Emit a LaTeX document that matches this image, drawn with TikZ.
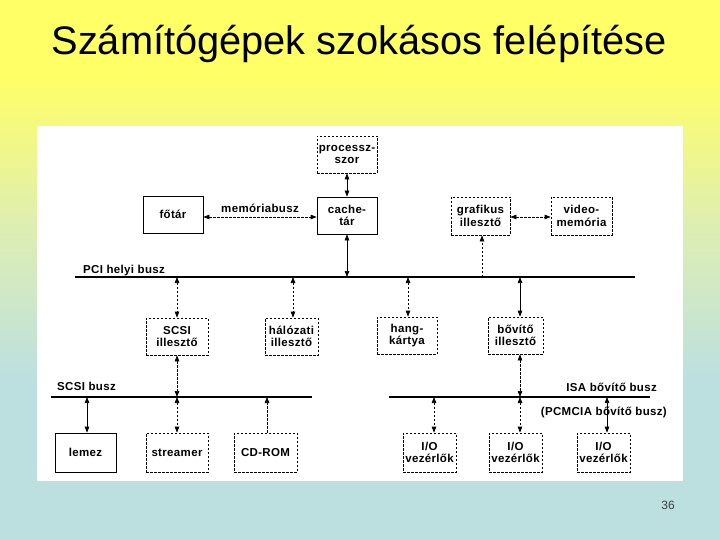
\documentclass[tikz,border=0pt]{standalone}
\usepackage{fontspec}
\setmainfont{Liberation Sans}
\newfontfamily\diafont[LetterSpace=3,BoldFont={Liberation Sans Bold}]{Liberation Sans}
\usetikzlibrary{arrows.meta}
\definecolor{bgyellow}{RGB}{255,255,102}
\definecolor{bggreen}{RGB}{222,238,178}
\definecolor{bgblue}{RGB}{188,224,224}
\pgfdeclareverticalshading{slidebg}{100bp}{color(0bp)=(bgblue); color(40bp)=(bgblue); color(54bp)=(bggreen); color(68bp)=(bgyellow); color(100bp)=(bgyellow)}

\begin{document}
\begin{tikzpicture}[x=1pt,y=-1pt,
  unit/.style={draw,line width=0.7pt,minimum width=60pt,minimum height=37pt,inner sep=0pt,align=center,
    font=\diafont\bfseries\fontsize{11.5}{12.5}\selectfont},
  dunit/.style={unit,dash pattern=on 2.5pt off 1.5pt},
  link/.style={line width=0.7pt,{Triangle[length=6pt,width=4.5pt]}-{Triangle[length=6pt,width=4.5pt]}},
  dlink/.style={link,dash pattern=on 2.5pt off 1.5pt},
  uplink/.style={line width=0.7pt,dash pattern=on 2.5pt off 1.5pt,-{Triangle[length=6pt,width=4.5pt]}},
  bus/.style={line width=2.2pt},
  buslabel/.style={inner sep=0pt,font=\diafont\bfseries\fontsize{11.5}{12.5}\selectfont}]
\useasboundingbox (0,0) rectangle (720,540);
\shade[shading=slidebg] (0,0) rectangle (720,540);
\fill[white] (37,126) rectangle (683,481);
\node[anchor=base] (title) at (359,55) {\fontsize{39.8}{44}\selectfont Számítógépek szokásos felépítése};
\node[anchor=base,text=black!75] (pagenum) at (668,509) {\fontsize{12}{14}\selectfont 36};

\node[dunit] (proc) at (347,154.5) {processz-\\szor};
\node[unit] (cache) at (347,215.5) {cache-\\tár};
\node[unit] (fotar) at (173,214.5) {főtár};
\node[dunit,minimum width=59pt,minimum height=38pt] (graf) at (480.5,216) {grafikus\\illesztő};
\node[dunit,minimum width=61pt,minimum height=38pt] (video) at (581.5,216) {video-\\memória};
\node[dunit,minimum width=62pt] (scsiil) at (177,336.5) {SCSI\\illesztő};
\node[dunit,minimum width=53pt] (halo) at (291.5,336.5) {hálózati\\illesztő};
\node[dunit] (hang) at (407,335.5) {hang-\\kártya};
\node[dunit,minimum width=55pt] (bovito) at (515.5,335.5) {bővítő\\illesztő};
\node[unit,minimum width=61pt,minimum height=39pt] (lemez) at (85.5,452.5) {lemez};
\node[dunit,minimum width=62pt,minimum height=39pt] (stream) at (177,452.5) {streamer};
\node[dunit,minimum width=63pt,minimum height=39pt] (cdrom) at (265.5,452.5) {CD-ROM};
\node[dunit,minimum width=53pt,minimum height=39pt] (io1) at (429.5,452.5) {I/O\\vezérlők};
\node[dunit,minimum width=53pt,minimum height=39pt] (io2) at (515.5,452.5) {I/O\\vezérlők};
\node[dunit,minimum width=53pt,minimum height=39pt] (io3) at (603.5,452.5) {I/O\\vezérlők};

\coordinate (pcia) at (75,277);
\coordinate (pcib) at (635,277);
\coordinate (scsia) at (51,397);
\coordinate (scsib) at (312,397);
\coordinate (isaa) at (389,397);
\coordinate (isab) at (650,397);
\draw[bus] (pcia) -- (pcib);
\draw[bus] (scsia) -- (scsib);
\draw[bus] (isaa) -- (isab);
\node[buslabel,anchor=base west] (pcilabel) at (83,273) {PCI helyi busz};
\node[buslabel,anchor=base west] (scsilabel) at (57,390) {SCSI busz};
\node[buslabel,anchor=base east] (isalabel) at (657,391) {ISA bővítő busz};
\node[buslabel,anchor=base east] (pcmcialabel) at (667,415) {(PCMCIA bővítő busz)};

\draw[dlink] (fotar.east |- 0,217) -- (cache.west |- 0,217) node[buslabel,midway,above=4pt] (membus) {memóriabusz};
\draw[link] (proc) -- (cache);
\draw[link] (cache) -- (cache |- pcia);
\draw[dlink] (graf.east |- 0,217) -- (video.west |- 0,217);
\coordinate (tgraf) at (482,277);
\draw[uplink] (tgraf) -- (tgraf |- graf.south);

\coordinate (t1) at (177,277);
\coordinate (t2) at (293,277);
\coordinate (t3) at (408,277);
\coordinate (t4) at (520,277);
\draw[dlink] (t1) -- (t1 |- scsiil.north);
\draw[dlink] (t2) -- (t2 |- halo.north);
\draw[dlink] (t3) -- (t3 |- hang.north);
\draw[link] (t4) -- (t4 |- bovito.north);

\coordinate (s0) at (177,397);
\coordinate (s1) at (87,397);
\coordinate (s2) at (177,397);
\coordinate (s3) at (267,397);
\draw[dlink] (scsiil) -- (s0);
\draw[link] (s1) -- (s1 |- lemez.north);
\draw[dlink] (s2) -- (s2 |- stream.north);
\draw[uplink] (s3 |- cdrom.north) -- (s3);

\coordinate (i0) at (520,397);
\coordinate (i1) at (434,397);
\coordinate (i2) at (520,397);
\coordinate (i3) at (607,397);
\draw[dlink] (i0 |- bovito.south) -- (i0);
\draw[dlink] (i1) -- (i1 |- io1.north);
\draw[dlink] (i2) -- (i2 |- io2.north);
\draw[link] (i3) -- (i3 |- io3.north);
\end{tikzpicture}
\end{document}
